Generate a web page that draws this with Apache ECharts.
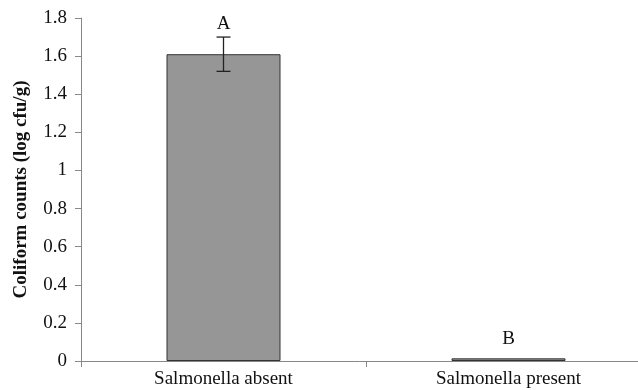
<!DOCTYPE html>
<html><head><meta charset="utf-8">
<script src="https://cdn.jsdelivr.net/npm/echarts@6/dist/echarts.min.js"></script>
<style>html,body{margin:0;padding:0;background:#fff}#c{width:638px;height:390px}</style>
</head><body><div id="c"></div>
<script>
const categories = ['Salmonella absent', 'Salmonella present'];
const means = [1.61, 0.014];
const errors = [0.09, 0];
const letters = ['A', 'B'];
const yTicks = [0, 0.2, 0.4, 0.6, 0.8, 1, 1.2, 1.4, 1.6, 1.8];

const chart = echarts.init(document.getElementById('c'));
const font = '"Liberation Serif", "Times New Roman", serif';
chart.setOption({
  animation: false,
  grid: { left: 81, top: 18, height: 343, width: 570, containLabel: false, outerBoundsMode: 'none' },
  xAxis: {
    type: 'category', data: categories,
    axisLine: { lineStyle: { color: '#888', width: 1 } },
    axisTick: { show: true, length: 6, lineStyle: { color: '#888' } },
    axisLabel: { color: '#111', fontFamily: font, fontSize: 19, margin: 9 }
  },
  yAxis: {
    type: 'value', min: 0, max: 1.8, interval: 0.2,
    name: 'Coliform counts (log cfu/g)', nameLocation: 'middle', nameGap: 50,
    nameTextStyle: { fontFamily: font, fontSize: 19, fontWeight: 'bold', color: '#111' },
    axisLine: { show: true, lineStyle: { color: '#888' } },
    axisTick: { show: true, length: 6, lineStyle: { color: '#888' } },
    splitLine: { show: false },
    axisLabel: { color: '#111', fontFamily: font, fontSize: 19, margin: 14,
      formatter: v => { const t = yTicks.find(x => Math.abs(x - v) < 1e-9); return t === undefined ? '' : String(t); } }
  },
  series: [
    { type: 'bar', data: means, barWidth: '40%',
      itemStyle: { color: '#969696', borderColor: '#333', borderWidth: 1 } },
    { type: 'custom', data: means.map((m, i) => [i, m, errors[i]]),
      renderItem: (params, api) => {
        const i = api.value(0), m = api.value(1), e = api.value(2);
        const top = api.coord([i, m + e]), bot = api.coord([i, m - e]);
        const children = [];
        if (e > 0) {
          const w = 7, st = { stroke: '#222', lineWidth: 1.3 };
          children.push({ type: 'line', shape: { x1: top[0], y1: top[1], x2: bot[0], y2: bot[1] }, style: st });
          children.push({ type: 'line', shape: { x1: top[0] - w, y1: top[1], x2: top[0] + w, y2: top[1] }, style: st });
          children.push({ type: 'line', shape: { x1: bot[0] - w, y1: bot[1], x2: bot[0] + w, y2: bot[1] }, style: st });
        }
        const off = e > 0 ? 13 : 19;
        children.push({ type: 'text', x: top[0], y: top[1] - off,
          style: { text: letters[i], fill: '#111', font: '19px ' + font, align: 'center', verticalAlign: 'middle' } });
        return { type: 'group', children };
      }, z: 10 }
  ]
});
</script></body></html>
